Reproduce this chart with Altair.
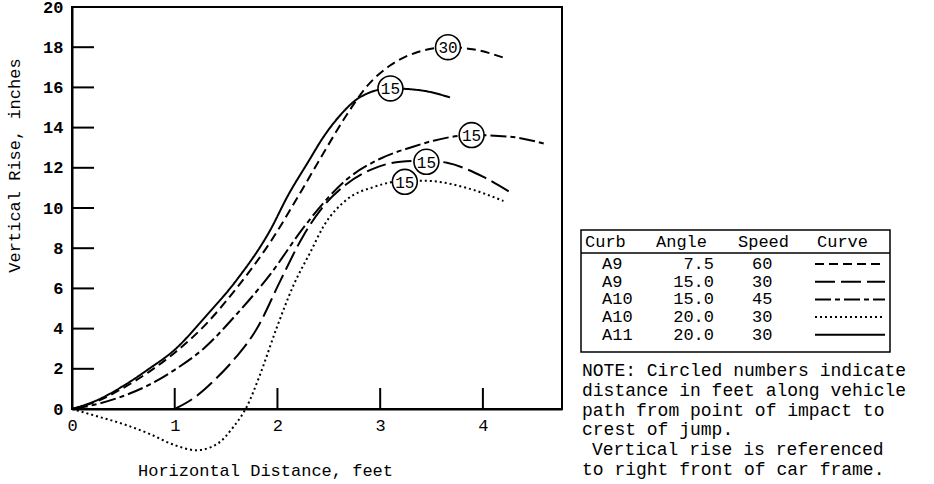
import altair as alt
import pandas as pd

# ---------------- data ----------------
x_a11 = [0, 0.25, 0.5, 0.75, 1.0, 1.3, 1.6, 1.93, 2.1, 2.3, 2.45, 2.6, 2.8, 3.1, 3.4, 3.68]
y_a11 = [0, 0.45, 1.15, 2.0, 2.95, 4.6, 6.4, 8.9, 10.6, 12.3, 13.55, 14.55, 15.5, 15.95, 15.85, 15.5]

x_a9_60 = [0, 0.25, 0.5, 0.75, 1.0, 1.3, 1.6, 1.93, 2.25, 2.45, 2.67, 2.87, 3.1, 3.36, 3.66, 3.9, 4.22]
y_a9_60 = [0, 0.4, 1.05, 1.85, 2.8, 4.2, 6.0, 8.3, 11.0, 12.75, 14.6, 16.05, 17.1, 17.75, 18.0, 17.9, 17.45]

x_a10_45 = [0, 0.25, 0.5, 0.75, 1.0, 1.28, 1.6, 1.93, 2.25, 2.5, 2.67, 3.0, 3.32, 3.52, 3.89, 4.26, 4.6]
y_a10_45 = [0, 0.25, 0.65, 1.2, 1.95, 3.0, 4.7, 6.7, 9.0, 10.55, 11.4, 12.45, 13.05, 13.35, 13.63, 13.55, 13.2]

x_a9_30 = [1.0, 1.2, 1.4, 1.6, 1.8, 2.03, 2.25, 2.45, 2.65, 2.93, 3.2, 3.45, 3.65, 4.0, 4.26]
y_a9_30 = [0, 0.6, 1.5, 2.6, 4.0, 6.4, 8.6, 10.1, 11.1, 11.95, 12.3, 12.35, 12.25, 11.56, 10.8]

x_a10_30 = [0, 0.27, 0.5, 0.76, 1.0, 1.21, 1.41, 1.57, 1.7, 1.83, 1.99, 2.16, 2.32, 2.45, 2.67, 2.94, 3.24, 3.45, 3.84, 4.2]
y_a10_30 = [0, -0.4, -0.75, -1.25, -1.8, -2.05, -1.75, -0.9, 0.1, 1.7, 4.0, 6.2, 7.8, 9.1, 10.4, 11.05, 11.35, 11.35, 11.0, 10.35]

curve_names = ["A9 7.5 60", "A9 15.0 30", "A10 15.0 45", "A10 20.0 30", "A11 20.0 30"]
curve_x = [x_a9_60, x_a9_30, x_a10_45, x_a10_30, x_a11]
curve_y = [y_a9_60, y_a9_30, y_a10_45, y_a10_30, y_a11]

# circled numbers (distance along path to crest, feet)
circle_x = [3.66, 3.10, 3.89, 3.45, 3.24]
circle_y = [18.0, 15.95, 13.63, 12.3, 11.3]
circle_lbl = ["30", "15", "15", "15", "15"]

# table
tbl_curb = ["A9", "A9", "A10", "A10", "A11"]
tbl_angle = ["7.5", "15.0", "15.0", "20.0", "20.0"]
tbl_speed = ["60", "30", "45", "30", "30"]

note_lines = [
    "NOTE: Circled numbers indicate",
    "distance in feet along vehicle",
    "path from point of impact to",
    "crest of jump.",
    "Vertical rise is referenced",
    "to right front of car frame.",
]

y_ticks = [0, 2, 4, 6, 8, 10, 12, 14, 16, 18, 20]
x_ticks = [0, 1, 2, 3, 4]

# ---------------- build ----------------
FONT = "Liberation Mono"
W, H = 490, 402
XMAX = 4.77

dashes = [[9, 5], [20, 6], [16, 4, 5, 4], [2, 3], [1, 0]]

rows = []
for name, xs_, ys_ in zip(curve_names, curve_x, curve_y):
    for i, (a, b) in enumerate(zip(xs_, ys_)):
        rows.append({"curve": name, "x": a, "y": b, "o": i})
df = pd.DataFrame(rows)

xs = alt.Scale(domain=[0, XMAX], nice=False, zero=False)
ys = alt.Scale(domain=[0, 20], nice=False, zero=False)

lines = alt.Chart(df).mark_line(interpolate="monotone", strokeWidth=2, color="black").encode(
    x=alt.X("x:Q", scale=xs,
            axis=alt.Axis(values=x_ticks, format="d", ticks=False, grid=False, domainColor="black",
                          domainWidth=2, labelFont=FONT, labelFontSize=17, labelColor="black",
                          labelPadding=8, labelFlush=False,
                          title="Horizontal Distance, feet", titleFont=FONT, titleFontSize=17,
                          titleFontWeight="normal", titleColor="black",
                          titleX=193, titleY=66, titleAlign="center", titleBaseline="alphabetic")),
    y=alt.Y("y:Q", scale=ys,
            axis=alt.Axis(values=y_ticks, format="d", ticks=False, grid=False, domainColor="black",
                          domainWidth=2, labelFont=FONT, labelFontSize=17, labelFontWeight="bold",
                          labelColor="black", labelPadding=9, labelFlush=False,
                          title="Vertical Rise, inches", titleFont=FONT, titleFontSize=17,
                          titleFontWeight="normal", titleColor="black",
                          titleX=-58, titleY=158, titleAlign="center", titleBaseline="middle")),
    strokeDash=alt.StrokeDash("curve:N", scale=alt.Scale(domain=curve_names, range=dashes), legend=None),
    detail="curve:N",
    order="o:Q",
)

# inward ticks
ytick_df = pd.DataFrame({"v": y_ticks[1:-1]})
ytk = alt.Chart(ytick_df).mark_rule(color="black", strokeWidth=2).encode(
    y=alt.Y("v:Q", scale=ys), x=alt.value(0), x2=alt.value(22))
xtick_df = pd.DataFrame({"v": x_ticks[1:]})
xtk = alt.Chart(xtick_df).mark_rule(color="black", strokeWidth=2).encode(
    x=alt.X("v:Q", scale=xs), y=alt.value(H), y2=alt.value(H - 21))

cdf = pd.DataFrame({"x": circle_x, "y": circle_y, "t": circle_lbl})
circ = alt.Chart(cdf).mark_point(shape="circle", filled=True, fill="white", stroke="black",
                                 strokeWidth=1.6, size=620, opacity=1).encode(
    x=alt.X("x:Q", scale=xs), y=alt.Y("y:Q", scale=ys))
ctxt = alt.Chart(cdf).mark_text(font=FONT, fontSize=16, color="black", dy=1).encode(
    x=alt.X("x:Q", scale=xs), y=alt.Y("y:Q", scale=ys), text="t:N")

layers = [lines, ytk, xtk, circ, ctxt]

# ---- table (pixel positions relative to plot origin at (72,7)) ----
OX, OY = 72, 7
box = alt.Chart(pd.DataFrame({"a": [0]})).mark_rect(fill="white", stroke="black", strokeWidth=1.5).encode(
    x=alt.value(581 - OX), x2=alt.value(890 - OX), y=alt.value(230 - OY), y2=alt.value(352 - OY))
hline = alt.Chart(pd.DataFrame({"a": [0]})).mark_rule(color="black", strokeWidth=1.5).encode(
    x=alt.value(581 - OX), x2=alt.value(890 - OX), y=alt.value(253 - OY))
layers += [box, hline]

TFS = 17


def txt(s, x, y, align="left", fs=TFS):
    return alt.Chart(pd.DataFrame({"t": [s]})).mark_text(
        font=FONT, fontSize=fs, color="black", align=align, baseline="middle").encode(
        x=alt.value(x - OX), y=alt.value(y - OY), text="t:N")


headers = [("Curb", 585), ("Angle", 656), ("Speed", 738), ("Curve", 817)]
for h, hx in headers:
    layers.append(txt(h, hx, 242))

row_y0, row_dy = 264, 17.7
for i in range(5):
    ry = row_y0 + i * row_dy
    layers.append(txt(tbl_curb[i], 602, ry))
    layers.append(txt(tbl_angle[i], 714, ry, align="right"))
    layers.append(txt(tbl_speed[i], 752, ry))
    layers.append(alt.Chart(pd.DataFrame({"a": [0]})).mark_rule(
        color="black", strokeWidth=2, strokeDash=dashes[i]).encode(
        x=alt.value(815 - OX), x2=alt.value(885 - OX), y=alt.value(ry - OY)))

note_y0, note_dy = 371, 19.8
for i, ln in enumerate(note_lines):
    nx = 592 if i == 4 else 582
    layers.append(txt(ln, nx, note_y0 + i * note_dy, fs=18))

chart = alt.layer(*layers).properties(
    width=W, height=H,
    autosize=alt.AutoSizeParams(type="none"),
    padding={"left": OX, "top": OY, "right": 934 - OX - W, "bottom": 484 - OY - H},
    background="white",
).configure_view(stroke="black", strokeWidth=2)

chart.save("out.html", embed_options={"renderer": "svg", "actions": False})
